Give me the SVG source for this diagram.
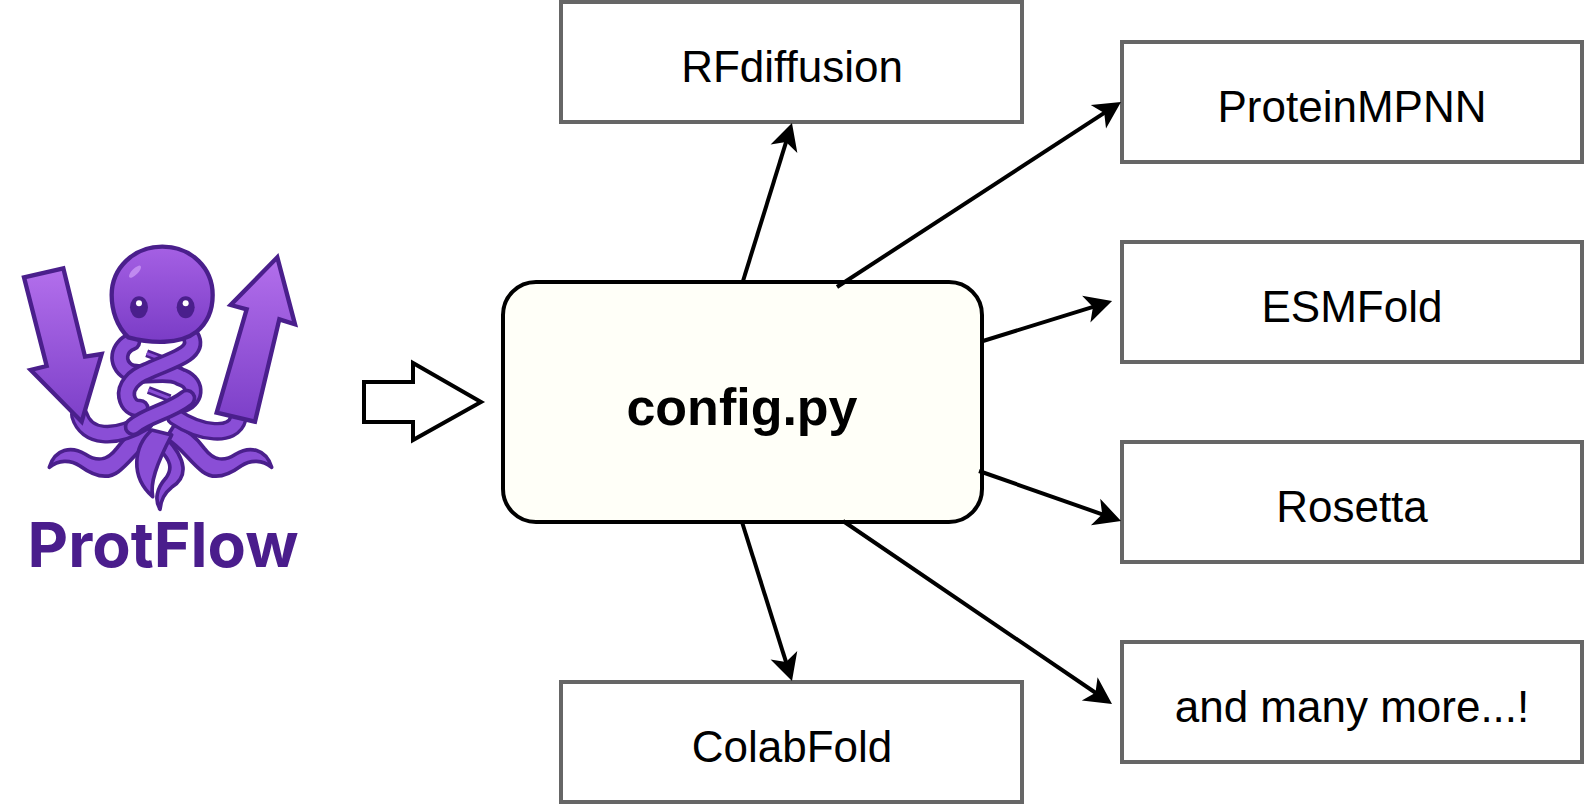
<svg xmlns="http://www.w3.org/2000/svg" width="1584" height="808" viewBox="0 0 1584 808">
<style>
.box{fill:#fff;stroke:#666;stroke-width:4}
.lbl{font-family:"Liberation Sans",Arial,sans-serif;font-size:44px;fill:#000;text-anchor:middle}
.edge{fill:none;stroke:#000;stroke-width:4;marker-end:url(#ah)}
.o{fill:none;stroke:#4a1f8c;stroke-linecap:round}
.i{fill:none;stroke:#8a4ed6;stroke-linecap:round}
.t{fill:#8a4ed6;stroke:#4a1f8c;stroke-width:11;stroke-linejoin:round}
</style>
<defs>
<marker id="ah" markerUnits="userSpaceOnUse" markerWidth="30" markerHeight="30" refX="19" refY="14" orient="auto" overflow="visible">
<path d="M27 14L0 0L7 14L0 28Z" fill="#000"/>
</marker>
<linearGradient id="body" x1="0" y1="0" x2="0" y2="1"><stop offset="0" stop-color="#a560e4"/><stop offset="1" stop-color="#7a3cc6"/></linearGradient>
<linearGradient id="ar" x1="0" y1="0" x2="0" y2="1"><stop offset="0" stop-color="#b36fec"/><stop offset="1" stop-color="#7c3fc8"/></linearGradient>
</defs>

<g id="logo">
<g transform="translate(0 230) scale(.33333)">
<path d="M440 370L520 400M445 480L510 505" fill="none" stroke="#4a1f8c" stroke-width="24"/>
<path d="M440 370L520 400M445 480L510 505" fill="none" stroke="#8a4ed6" stroke-width="9"/>
<path class="t" d="M148 712C165 655 215 648 255 672C290 695 320 695 350 655C375 620 400 600 440 585L465 625C420 650 395 695 355 725C315 755 270 730 240 708C210 688 175 690 148 712Z"/>
<path class="t" transform="translate(963 0) scale(-1 1)" d="M148 712C165 655 215 648 255 672C290 695 320 695 350 655C375 620 400 600 440 585L465 625C420 650 395 695 355 725C315 755 270 730 240 708C210 688 175 690 148 712Z"/>
<path class="t" d="M500 625C560 690 565 740 515 772C492 790 482 812 480 838C463 810 470 775 497 745C520 715 510 690 480 660Z"/>
<path class="t" d="M455 600C400 650 390 740 458 800C450 760 468 705 515 615Z"/>
<path class="o" stroke-width="56" d="M238 555C258 625 345 630 435 575M715 565C700 625 600 610 525 560"/>
<path class="i" stroke-width="36" d="M238 555C258 625 345 630 435 575M715 565C700 625 600 610 525 560"/>
<path class="o" stroke-width="58" d="M395 335C355 350 345 400 385 425C430 445 500 415 540 440C590 455 590 505 550 520"/>
<path class="i" stroke-width="36" d="M395 335C355 350 345 400 385 425C430 445 500 415 540 440C590 455 590 505 550 520"/>
<path class="o" stroke-width="58" d="M575 325C595 375 500 395 440 425C400 440 375 470 380 500C385 525 400 535 420 535"/>
<path class="i" stroke-width="36" d="M575 325C595 375 500 395 440 425C400 440 375 470 380 500C385 525 400 535 420 535"/>
<path class="o" stroke-width="58" d="M560 505C510 545 440 555 400 590"/>
<path class="i" stroke-width="36" d="M560 505C510 545 440 555 400 590"/>
<path fill="url(#ar)" stroke="#4a1f8c" stroke-width="13" d="M72 142L190 115L255 380L305 372L245 575L92 420L140 408Z"/>
<path fill="url(#ar)" stroke="#4a1f8c" stroke-width="13" d="M650 548L740 238L692 225L832 82L885 283L838 268L765 575Z"/>
<path fill="url(#body)" stroke="#4a1f8c" stroke-width="13" d="M487 50C575 50 638 115 638 195C638 245 620 280 590 305C540 345 450 340 385 322C350 290 335 240 335 195C335 115 400 50 487 50Z"/>
<ellipse cx="405" cy="125" rx="24" ry="9" transform="rotate(-45 405 125)" fill="#c08af0"/>
<ellipse cx="417" cy="232" rx="27" ry="33" fill="#4a1f8c"/>
<ellipse cx="557" cy="232" rx="27" ry="33" fill="#4a1f8c"/>
<circle cx="417" cy="220" r="9" fill="#fff"/>
<circle cx="557" cy="220" r="9" fill="#fff"/>
</g>
<text x="163" y="567" font-family="Inter,'Noto Sans',sans-serif" font-weight="700" font-size="62" fill="#4a1d8c" text-anchor="middle" textLength="271" lengthAdjust="spacingAndGlyphs">ProtFlow</text>
</g>

<g id="input-arrow"><path d="M364 382H413V363L481 402L413 440V422H364Z" fill="#fff" stroke="#000" stroke-width="4"/></g>

<g id="config"><rect x="503" y="282" width="479" height="240" rx="33" fill="#fffff8" stroke="#000" stroke-width="4"/>
<text x="742" y="425" font-family="'Liberation Sans',Arial,sans-serif" font-weight="700" font-size="52" text-anchor="middle">config.py</text></g>

<g id="rfdiffusion"><rect class="box" x="561" y="2" width="461" height="120"/><text class="lbl" x="792" y="82">RFdiffusion</text></g>
<g id="colabfold"><rect class="box" x="561" y="682" width="461" height="120"/><text class="lbl" x="792" y="762">ColabFold</text></g>
<g id="proteinmpnn"><rect class="box" x="1122" y="42" width="460" height="120"/><text class="lbl" x="1352" y="122">ProteinMPNN</text></g>
<g id="esmfold"><rect class="box" x="1122" y="242" width="460" height="120"/><text class="lbl" x="1352" y="322">ESMFold</text></g>
<g id="rosetta"><rect class="box" x="1122" y="442" width="460" height="120"/><text class="lbl" x="1352" y="522">Rosetta</text></g>
<g id="more"><rect class="box" x="1122" y="642" width="460" height="120"/><text class="lbl" x="1352" y="722">and many more...!</text></g>

<g id="connectors">
<path class="edge" d="M743 281L789.6 130.6"/>
<path class="edge" d="M837 287L1114.3 106.4"/>
<path class="edge" d="M983 341L1104.4 303.4"/>
<path class="edge" d="M979 471L1113.5 518.3"/>
<path class="edge" d="M843 521L1105.4 699.5"/>
<path class="edge" d="M742 522L789.6 673.4"/>
</g>
</svg>
